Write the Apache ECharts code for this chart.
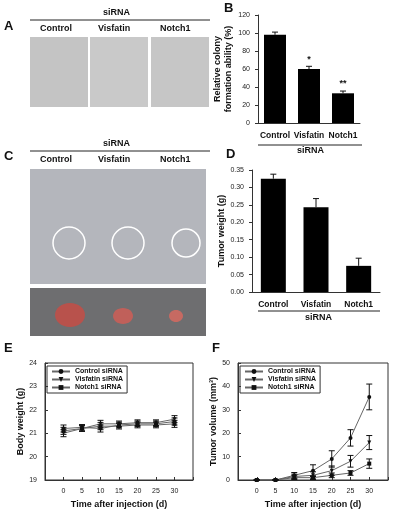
<!DOCTYPE html>
<html><head><meta charset="utf-8">
<script src="https://cdn.jsdelivr.net/npm/echarts@6/dist/echarts.min.js"></script>
<style>html,body{margin:0;padding:0;background:#fff}#c{width:400px;height:510px}</style>
</head><body><div id="c"></div>
<script>
const sirnaCats = ['Control', 'Visfatin', 'Notch1'];
const colonyVals = [98, 60, 33];
const colonyErr = [3, 3, 2.5];
const colonyStars = ['', '*', '**'];
const weightVals = [0.325, 0.243, 0.075];
const weightErr = [0.013, 0.025, 0.022];
const days = [0, 5, 10, 15, 20, 25, 30];
const seriesNames = ['Control siRNA', 'Visfatin siRNA', 'Notch1 siRNA'];
const bodyControl = [21.2, 21.25, 21.2, 21.35, 21.4, 21.4, 21.5];
const bodyVisfatin = [21.0, 21.2, 21.4, 21.4, 21.45, 21.45, 21.6];
const bodyNotch1 = [21.1, 21.2, 21.3, 21.3, 21.35, 21.35, 21.4];
const bodyErr = [0.15, 0.12, 0.15, 0.12, 0.12, 0.12, 0.15];
const volControl = [0, 0, 2, 4, 9, 18, 35.5];
const volControlErr = [0, 0, 1.2, 2.5, 3.5, 3.5, 5.5];
const volVisfatin = [0, 0, 1.5, 2, 4, 8, 16];
const volVisfatinErr = [0, 0, 1, 1.5, 2, 2.5, 3];
const volNotch1 = [0, 0, 1, 1, 2, 3, 7];
const volNotch1Err = [0, 0, 0.8, 0.8, 1, 1, 2];

const F = 'Arial, "Liberation Sans", sans-serif';
const chart = echarts.init(document.getElementById('c'));

function errSeries(idx, xs, ys, es, upperOnly) {
  return {
    type: 'custom', xAxisIndex: idx, yAxisIndex: idx, z: 5, silent: true,
    data: xs.map((x, i) => [x, ys[i], es[i]]),
    renderItem(params, api) {
      const x = api.value(0), y = api.value(1), e = api.value(2);
      const top = api.coord([x, y + e]);
      const bot = api.coord([x, upperOnly ? y : y - e]);
      const w = 3;
      const ch = [
        {type: 'line', shape: {x1: top[0], y1: top[1], x2: bot[0], y2: bot[1]}, style: {stroke: '#111', lineWidth: 1}},
        {type: 'line', shape: {x1: top[0] - w, y1: top[1], x2: top[0] + w, y2: top[1]}, style: {stroke: '#111', lineWidth: 1}}
      ];
      if (!upperOnly) ch.push({type: 'line', shape: {x1: bot[0] - w, y1: bot[1], x2: bot[0] + w, y2: bot[1]}, style: {stroke: '#111', lineWidth: 1}});
      return {type: 'group', children: ch};
    }
  };
}
function lineSeries(idx, name, ys, sym, rot) {
  return {type: 'line', name, xAxisIndex: idx, yAxisIndex: idx, data: days.map((d, i) => [d, ys[i]]),
    symbol: sym, symbolRotate: rot || 0, symbolSize: 4, lineStyle: {color: '#666', width: 1},
    itemStyle: {color: '#111'}, z: 4};
}
const axLab = {fontSize: 7, color: '#222', fontFamily: F};
const catLab = {fontSize: 8.5, fontWeight: 'bold', color: '#111', fontFamily: F, interval: 0};
const nameSt = {fontSize: 9, fontWeight: 'bold', color: '#111', fontFamily: F};
const axLine = {show: true, onZero: false, lineStyle: {color: '#333', width: 1}};
const tick5 = {min: -5, max: 35, interval: 5, type: 'value',
  axisLabel: Object.assign({}, axLab, {formatter: v => (v < 0 || v > 30) ? '' : v}),
  axisTick: {show: true, length: 3, inside: true, lineStyle: {color: '#333'}}, axisLine: axLine, splitLine: {show: false},
  name: 'Time after injection (d)', nameLocation: 'middle', nameGap: 20, nameTextStyle: nameSt};

function txt(x, y, t, size, bold, align) {
  return {type: 'text', left: x, top: y, style: {text: t, fontSize: size, fontWeight: bold ? 'bold' : 'normal', fill: '#111', fontFamily: F, textAlign: align || 'left'}};
}
function hline(x1, x2, y) {
  return {type: 'line', shape: {x1, y1: y, x2, y2: y}, style: {stroke: '#222', lineWidth: 1}};
}
function rect(x, y, w, h, fill) { return {type: 'rect', shape: {x, y, width: w, height: h}, style: {fill}}; }

const graphics = [
  txt(4, 20, 'A', 13, true), txt(224, 2, 'B', 13, true), txt(4, 150, 'C', 13, true), txt(226, 148, 'D', 13, true),
  txt(4, 342, 'E', 13, true), txt(212, 342, 'F', 13, true),
  txt(103, 8, 'siRNA', 9, true), hline(30, 210, 20),
  txt(40, 24, 'Control', 9, true), txt(98, 24, 'Visfatin', 9, true), txt(160, 24, 'Notch1', 9, true),
  rect(30, 37, 58, 70, '#c4c4c4'), rect(90, 37, 58, 70, '#c9c9c9'), rect(151, 37, 58, 70, '#c6c6c6'),
  txt(103, 139, 'siRNA', 9, true), hline(30, 210, 151),
  txt(40, 155, 'Control', 9, true), txt(98, 155, 'Visfatin', 9, true), txt(160, 155, 'Notch1', 9, true),
  rect(30, 169, 176, 115, '#b4b6bc'),
  {type: 'circle', shape: {cx: 69, cy: 243, r: 16}, style: {fill: 'none', stroke: '#fff', lineWidth: 1.5}},
  {type: 'circle', shape: {cx: 128, cy: 243, r: 16}, style: {fill: 'none', stroke: '#fff', lineWidth: 1.5}},
  {type: 'circle', shape: {cx: 186, cy: 243, r: 14}, style: {fill: 'none', stroke: '#fff', lineWidth: 1.5}},
  rect(30, 288, 176, 48, '#6e6e70'),
  {type: 'ellipse', shape: {cx: 70, cy: 315, rx: 15, ry: 12}, style: {fill: '#b8524c'}},
  {type: 'ellipse', shape: {cx: 123, cy: 316, rx: 10, ry: 8}, style: {fill: '#c0605a'}},
  {type: 'ellipse', shape: {cx: 176, cy: 316, rx: 7, ry: 6}, style: {fill: '#c66a62'}},
  hline(258, 362, 145), txt(297, 146, 'siRNA', 9, true),
  hline(258, 380, 311), txt(305, 313, 'siRNA', 9, true)
];

chart.setOption({
  animation: false,
  textStyle: {fontFamily: F},
  graphic: graphics,
  grid: [
    {left: 258, top: 15, width: 102, height: 108},
    {left: 252, top: 170, width: 128, height: 122},
    {left: 45, top: 363, width: 148, height: 117, show: true, borderColor: '#333', borderWidth: 1},
    {left: 238, top: 363, width: 150, height: 117, show: true, borderColor: '#333', borderWidth: 1}
  ],
  legend: [
    {data: seriesNames, left: 47, top: 366, orient: 'vertical', itemGap: 1, itemWidth: 18, itemHeight: 6, padding: [2, 4],
      borderColor: '#333', borderWidth: 1, textStyle: {fontSize: 7, fontWeight: 'bold', color: '#111'}},
    {data: seriesNames, left: 240, top: 366, orient: 'vertical', itemGap: 1, itemWidth: 18, itemHeight: 6, padding: [2, 4],
      borderColor: '#333', borderWidth: 1, textStyle: {fontSize: 7, fontWeight: 'bold', color: '#111'}}
  ],
  xAxis: [
    {gridIndex: 0, type: 'category', data: sirnaCats, axisLabel: catLab, axisTick: {show: false}, axisLine: axLine},
    {gridIndex: 1, type: 'category', data: sirnaCats, axisLabel: catLab, axisTick: {show: false}, axisLine: axLine},
    Object.assign({gridIndex: 2}, tick5),
    Object.assign({gridIndex: 3}, tick5)
  ],
  yAxis: [
    {gridIndex: 0, type: 'value', min: 0, max: 120, interval: 20, axisLabel: axLab, axisLine: axLine,
      axisTick: {show: true, length: 3, lineStyle: {color: '#333'}}, splitLine: {show: false},
      name: 'Relative colony\nformation ability (%)', nameLocation: 'middle', nameGap: 16, nameTextStyle: Object.assign({}, nameSt, {lineHeight: 11})},
    {gridIndex: 1, type: 'value', min: 0, max: 0.35, interval: 0.05, axisLabel: Object.assign({}, axLab, {formatter: v => v.toFixed(2)}),
      axisLine: axLine, axisTick: {show: true, length: 3, lineStyle: {color: '#333'}}, splitLine: {show: false},
      name: 'Tumor weight (g)', nameLocation: 'middle', nameGap: 24, nameTextStyle: nameSt},
    {gridIndex: 2, type: 'value', min: 19, max: 24, interval: 1, axisLabel: axLab, axisLine: axLine,
      axisTick: {show: true, length: 3, inside: true, lineStyle: {color: '#333'}}, splitLine: {show: false},
      name: 'Body weight (g)', nameLocation: 'middle', nameGap: 17, nameTextStyle: nameSt},
    {gridIndex: 3, type: 'value', min: 0, max: 50, interval: 10, axisLabel: axLab, axisLine: axLine,
      axisTick: {show: true, length: 3, inside: true, lineStyle: {color: '#333'}}, splitLine: {show: false},
      name: 'Tumor volume (mm³)', nameLocation: 'middle', nameGap: 17, nameTextStyle: nameSt}
  ],
  series: [
    {type: 'bar', xAxisIndex: 0, yAxisIndex: 0, data: colonyVals, barWidth: 22, itemStyle: {color: '#000'},
      label: {show: true, position: 'top', distance: 5, formatter: p => colonyStars[p.dataIndex], fontSize: 9, fontWeight: 'bold', color: '#111'}},
    errSeries(0, sirnaCats.map((c, i) => i), colonyVals, colonyErr, true),
    {type: 'bar', xAxisIndex: 1, yAxisIndex: 1, data: weightVals, barWidth: 25, itemStyle: {color: '#000'}},
    errSeries(1, sirnaCats.map((c, i) => i), weightVals, weightErr, true),
    lineSeries(2, seriesNames[0], bodyControl, 'circle'),
    lineSeries(2, seriesNames[1], bodyVisfatin, 'triangle', 180),
    lineSeries(2, seriesNames[2], bodyNotch1, 'rect'),
    errSeries(2, days, bodyControl, bodyErr, false),
    errSeries(2, days, bodyVisfatin, bodyErr, false),
    errSeries(2, days, bodyNotch1, bodyErr, false),
    lineSeries(3, seriesNames[0], volControl, 'circle'),
    lineSeries(3, seriesNames[1], volVisfatin, 'triangle', 180),
    lineSeries(3, seriesNames[2], volNotch1, 'rect'),
    errSeries(3, days, volControl, volControlErr, false),
    errSeries(3, days, volVisfatin, volVisfatinErr, false),
    errSeries(3, days, volNotch1, volNotch1Err, false)
  ]
});
</script></body></html>
